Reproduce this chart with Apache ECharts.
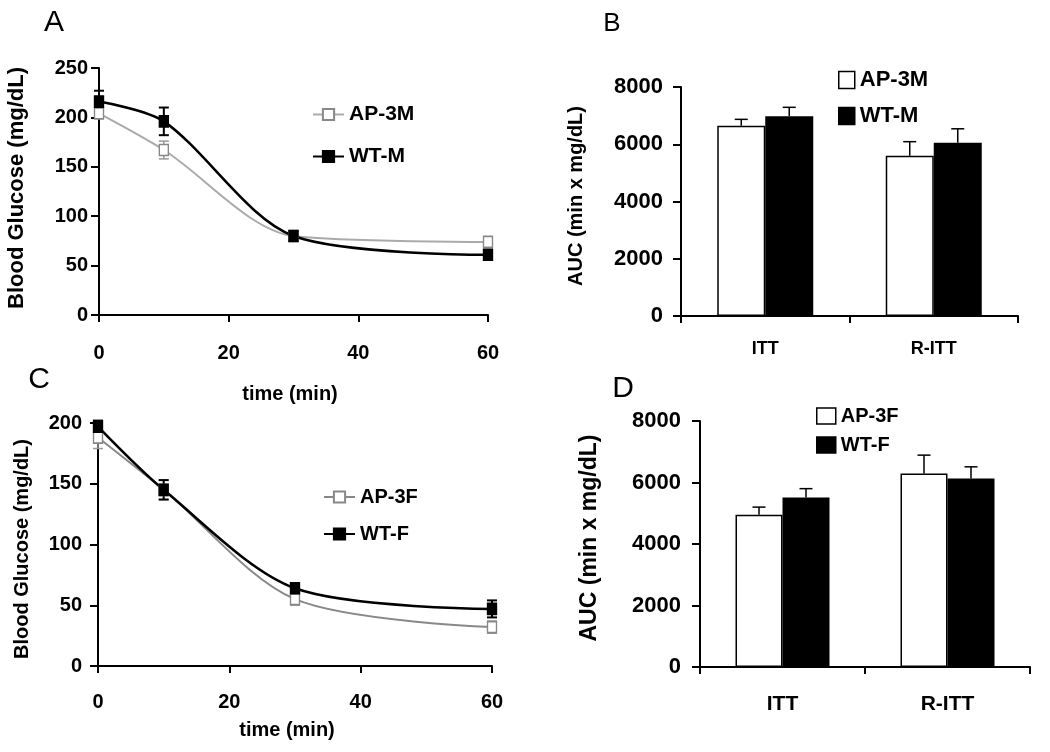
<!DOCTYPE html>
<html>
<head>
<meta charset="utf-8">
<script src="https://cdn.jsdelivr.net/npm/echarts@6/dist/echarts.min.js"></script>
<style>
html,body{margin:0;padding:0;background:#fff;}
#chart{width:1050px;height:752px;}
</style>
</head>
<body>
<div id="chart"></div>
<script>
// ---- data ----
var timeMin = [0, 10, 30, 60];

var AP3M = [204, 167, 80, 74];
var AP3M_err = [5, 9, 4, 4];
var WTM = [216, 196, 80, 61];
var WTM_err = [11, 14, 5, 4];

var AP3F = [188, 145, 55, 32];
var AP3F_err = [9, 8, 5, 5];
var WTF = [197, 145, 64, 47];
var WTF_err = [5, 8, 4, 7];

var aucCats = ['ITT', 'R-ITT'];
var AP3M_auc = [6650, 5600];
var AP3M_auc_err = [220, 490];
var WTM_auc = [6980, 6050];
var WTM_auc_err = [310, 490];
var AP3F_auc = [4950, 6290];
var AP3F_auc_err = [250, 600];
var WTF_auc = [5510, 6130];
var WTF_auc_err = [290, 380];

// ---- helpers ----
var FONT = "'Liberation Sans', Arial, sans-serif";
var plain = function (v) { return String(v); };

function pairs(xs, ys) { return xs.map(function (x, i) { return [x, ys[i]]; }); }
function triples(xs, ys, es) { return xs.map(function (x, i) { return [x, ys[i], es[i]]; }); }

function errSeries(idx, data, color, capW, offset, upOnly, lw) {
  return {
    type: 'custom', xAxisIndex: idx, yAxisIndex: idx, z: 3, clip: false, silent: true,
    data: data, encode: { x: 0, y: 1 },
    renderItem: function (params, api) {
      var x = api.value(0), v = api.value(1), e = api.value(2);
      var top = api.coord([x, v + e]);
      var bot = api.coord([x, upOnly ? v : v - e]);
      var cx = top[0] + offset;
      var children = [
        { type: 'line', shape: { x1: cx, y1: top[1], x2: cx, y2: bot[1] }, style: { stroke: color, lineWidth: lw } },
        { type: 'line', shape: { x1: cx - capW / 2, y1: top[1], x2: cx + capW / 2, y2: top[1] }, style: { stroke: color, lineWidth: lw } }
      ];
      if (!upOnly) children.push({ type: 'line', shape: { x1: cx - capW / 2, y1: bot[1], x2: cx + capW / 2, y2: bot[1] }, style: { stroke: color, lineWidth: lw } });
      return { type: 'group', children: children };
    }
  };
}

function valueXAxis(idx, labelSize, margin) {
  return {
    type: 'value', gridIndex: idx, min: 0, max: 60, interval: 20,
    axisLine: { lineStyle: { color: '#000', width: 2 } },
    axisTick: { show: true, length: 7, lineStyle: { color: '#000', width: 2 } },
    splitLine: { show: false },
    axisLabel: { fontFamily: FONT, fontWeight: 'bold', fontSize: labelSize, color: '#000', margin: margin, formatter: plain }
  };
}
function yAxis(idx, max, interval, labelSize, margin) {
  return {
    type: 'value', gridIndex: idx, min: 0, max: max, interval: interval,
    axisLine: { show: true, lineStyle: { color: '#000', width: 2 } },
    axisTick: { show: true, length: 8, lineStyle: { color: '#000', width: 2 } },
    splitLine: { show: false },
    axisLabel: { fontFamily: FONT, fontWeight: 'bold', fontSize: labelSize, color: '#000', margin: margin, formatter: plain }
  };
}
function catAxis(idx, labelSize, margin) {
  return {
    type: 'category', gridIndex: idx, data: aucCats,
    axisLine: { lineStyle: { color: '#000', width: 2 } },
    axisTick: { show: true, length: 7, lineStyle: { color: '#000', width: 2 } },
    axisLabel: { fontFamily: FONT, fontWeight: 'bold', fontSize: labelSize, color: '#000', margin: margin }
  };
}
function lineSeries(idx, name, data, lineColor, lw, fill, border) {
  return {
    type: 'line', name: name, xAxisIndex: idx, yAxisIndex: idx, data: data, z: 4,
    smooth: 0.3, symbol: 'rect', symbolSize: [9, 11],
    lineStyle: { color: lineColor, width: lw },
    itemStyle: { color: fill, borderColor: border, borderWidth: 1.5 }
  };
}
function barSeries(idx, name, data, fill, bw) {
  return {
    type: 'bar', name: name, xAxisIndex: idx, yAxisIndex: idx, data: data, z: 2,
    barWidth: bw, barGap: '0%',
    itemStyle: { color: fill, borderColor: '#000', borderWidth: 1.5 }
  };
}
function lineLegend(names, left, top, size, gap) {
  return {
    orient: 'vertical', left: left, top: top, itemWidth: 31, itemHeight: 14, itemGap: gap,
    data: names, selectedMode: false,
    textStyle: { fontFamily: FONT, fontWeight: 'bold', fontSize: size, color: '#000', lineHeight: size }
  };
}
function barLegend(names, left, top, size, gap, w, h) {
  return {
    orient: 'vertical', left: left, top: top, itemWidth: w, itemHeight: h, itemGap: gap, selectedMode: false,
    data: [
      { name: names[0], icon: 'rect', itemStyle: { color: '#fff', borderColor: '#000', borderWidth: 1.5 } },
      { name: names[1], icon: 'rect', itemStyle: { color: '#000', borderColor: '#000', borderWidth: 1.5 } }
    ],
    textStyle: { fontFamily: FONT, fontWeight: 'bold', fontSize: size, color: '#000', lineHeight: size }
  };
}
function txt(text, x, y, size, bold, rot) {
  return {
    type: 'text', x: x, y: y, rotation: rot || 0, silent: true,
    style: { text: text, fontFamily: FONT, fontSize: size, fontWeight: bold ? 'bold' : 'normal', fill: '#000', align: 'center', verticalAlign: 'middle' }
  };
}

var chart = echarts.init(document.getElementById('chart'), null, { renderer: 'canvas' });
chart.setOption({
  animation: false,
  backgroundColor: '#fff',
  grid: [
    { left: 99, top: 68, width: 389, height: 247 },
    { left: 681, top: 87, width: 337, height: 229 },
    { left: 98, top: 423, width: 394, height: 243 },
    { left: 700, top: 421, width: 330, height: 246 }
  ],
  xAxis: [
    valueXAxis(0, 20, 28),
    catAxis(1, 18, 24),
    valueXAxis(2, 20, 26),
    catAxis(3, 21, 27)
  ],
  yAxis: [
    yAxis(0, 250, 50, 20, 11),
    yAxis(1, 8000, 2000, 22, 18),
    yAxis(2, 200, 50, 20, 16),
    yAxis(3, 8000, 2000, 22, 19)
  ],
  legend: [
    lineLegend(['AP-3M', 'WT-M'], 307, 99, 21, 21),
    barLegend(['AP-3M', 'WT-M'], 833, 64, 22, 14, 16, 17),
    lineLegend(['AP-3F', 'WT-F'], 318, 482, 20, 17),
    barLegend(['AP-3F', 'WT-F'], 811, 401, 20, 9, 19, 16)
  ],
  series: [
    lineSeries(0, 'AP-3M', pairs(timeMin, AP3M), '#aaaaaa', 2, '#fff', '#888'),
    lineSeries(0, 'WT-M', pairs(timeMin, WTM), '#000', 2.5, '#000', '#000'),
    errSeries(0, triples(timeMin, AP3M, AP3M_err), '#999', 10, 0, false, 1.5),
    errSeries(0, triples(timeMin, WTM, WTM_err), '#000', 10, 0, false, 2),

    lineSeries(2, 'AP-3F', pairs(timeMin, AP3F), '#888888', 2, '#fff', '#888'),
    lineSeries(2, 'WT-F', pairs(timeMin, WTF), '#000', 2.5, '#000', '#000'),
    errSeries(2, triples(timeMin, AP3F, AP3F_err), '#999', 10, 0, false, 1.5),
    errSeries(2, triples(timeMin, WTF, WTF_err), '#000', 10, 0, false, 2),

    barSeries(1, 'AP-3M', AP3M_auc, '#fff', 48),
    barSeries(1, 'WT-M', WTM_auc, '#000', 48),
    errSeries(1, triples([0, 1], AP3M_auc, AP3M_auc_err), '#000', 13, -24, true, 1.5),
    errSeries(1, triples([0, 1], WTM_auc, WTM_auc_err), '#000', 13, 24, true, 1.5),

    barSeries(3, 'AP-3F', AP3F_auc, '#fff', 47),
    barSeries(3, 'WT-F', WTF_auc, '#000', 47),
    errSeries(3, triples([0, 1], AP3F_auc, AP3F_auc_err), '#000', 13, -23.5, true, 1.5),
    errSeries(3, triples([0, 1], WTF_auc, WTF_auc_err), '#000', 13, 23.5, true, 1.5)
  ],
  graphic: [
    txt('A', 54, 23, 30, false),
    txt('B', 612, 24, 26, false),
    txt('C', 39, 380, 30, false),
    txt('D', 623, 389, 30, false),
    txt('Blood Glucose (mg/dL)', 17, 188, 22, true, Math.PI / 2),
    txt('Blood Glucose (mg/dL)', 22, 549, 20, true, Math.PI / 2),
    txt('AUC (min x mg/dL)', 576, 196, 20, true, Math.PI / 2),
    txt('AUC (min x mg/dL)', 590, 538, 23, true, Math.PI / 2),
    txt('time (min)', 290, 394, 20, true),
    txt('time (min)', 287, 730, 20, true)
  ]
});
</script>
</body>
</html>
